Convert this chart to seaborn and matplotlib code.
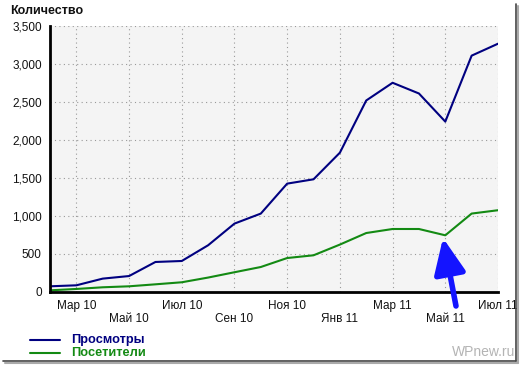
import matplotlib
matplotlib.use("Agg")
import matplotlib.pyplot as plt
import matplotlib.ticker as mticker
from matplotlib.lines import Line2D
import pandas as pd
import seaborn as sns

# monthly data, Feb 2010 - Jul 2011
months = pd.date_range("2010-02-01", "2011-07-01", freq="MS")
views = [75, 88, 176, 210, 395, 408, 615, 900, 1032, 1426, 1483, 1833,
         2520, 2753, 2612, 2242, 3110, 3267]
visitors = [22, 40, 62, 75, 101, 128, 190, 260, 329, 447, 483, 624,
            776, 829, 829, 746, 1032, 1076]

tick_months = ["Мар 10", "Май 10", "Июл 10", "Сен 10", "Ноя 10",
               "Янв 11", "Мар 11", "Май 11", "Июл 11"]
series_names = ["Просмотры", "Посетители"]
series_colors = ["#000080", "#138a13"]

df = pd.DataFrame({"month": range(len(months)), "Просмотры": views,
                   "Посетители": visitors})
long_df = df.melt(id_vars="month", var_name="series", value_name="value")

sns.set_theme(style="white")
plt.rcParams["font.family"] = ["Liberation Sans", "DejaVu Sans"]

W, H = 521, 366
fig = plt.figure(figsize=(W / 100, H / 100), dpi=100)
ax = fig.add_axes([50 / W, 1 - 292 / H, 448 / W, 266 / H])

sns.lineplot(
    data=long_df,
    x="month",
    y="value",
    hue="series",
    palette=dict(zip(series_names, series_colors)),
    linewidth=1.5,
    legend=False,
    ax=ax
)

ax.set_facecolor("#f4f4f4")
ax.set_xlim(0, len(months) - 1)
ax.set_ylim(0, 3500)
ax.yaxis.set_major_locator(mticker.MultipleLocator(500))
ax.yaxis.set_major_formatter(mticker.StrMethodFormatter("{x:,.0f}"))

tick_pos = list(range(1, len(months), 2))
ax.set_xticks(tick_pos)
ax.set_xticklabels(
    [lab if i % 2 == 0 else "\n" + lab for i, lab in enumerate(tick_months)],
    linespacing=1.15
)
ax.set_xlabel("")
ax.set_ylabel("")

ax.grid(True, color="#999999", linestyle=(0, (1, 3)), linewidth=0.8)
for side in ["top", "right"]:
    ax.spines[side].set_visible(False)
for side in ["left", "bottom"]:
    ax.spines[side].set_color("black")
    ax.spines[side].set_linewidth(2)

ax.tick_params(axis="both", direction="out", length=4, width=1,
               color="black", labelsize=8.5, labelcolor="#111111", pad=2)
ax.tick_params(axis="x", pad=1.5)

fig.text(10 / W, 1 - 11 / H, "Количество", fontsize=9, fontweight="bold",
         va="center", ha="left", color="#111111")

# legend below the chart
for i, (name, c) in enumerate(zip(series_names, series_colors)):
    y = 1 - (340 + 13 * i) / H
    fig.add_artist(Line2D([30 / W, 60 / W], [y, y], color=c, lw=1.5,
                          transform=fig.transFigure))
    fig.text(71 / W, y, name, fontsize=9.2, fontweight="bold", color=c,
             va="center", ha="left")

fig.text(515 / W, 1 - 352 / H, "WPnew.ru", fontsize=10, color="#b4b4b4",
         ha="right", va="center")

# arrow pointing at the May 11 dip
ax.annotate("", xy=(443, H - 238), xycoords="figure pixels",
            xytext=(456, H - 306), textcoords="figure pixels",
            arrowprops=dict(arrowstyle="-|>,head_length=1.8,head_width=0.8",
                            color="#1414ff", lw=4, shrinkA=0, shrinkB=0))

# frame with shadow
fig.add_artist(Line2D([516 / W, 516 / W], [1 - 4 / H, 1 - 361 / H],
                      color="#444444", lw=1.2, transform=fig.transFigure))
fig.add_artist(Line2D([3 / W, 516 / W], [1 - 361 / H, 1 - 361 / H],
                      color="#444444", lw=1.2, transform=fig.transFigure))
fig.add_artist(Line2D([518 / W, 518 / W], [1 - 6 / H, 1 - 363 / H],
                      color="#aaaaaa", lw=1.5, transform=fig.transFigure))
fig.add_artist(Line2D([5 / W, 518 / W], [1 - 363 / H, 1 - 363 / H],
                      color="#aaaaaa", lw=1.5, transform=fig.transFigure))

fig.savefig("out.png", dpi=100, facecolor="white")
